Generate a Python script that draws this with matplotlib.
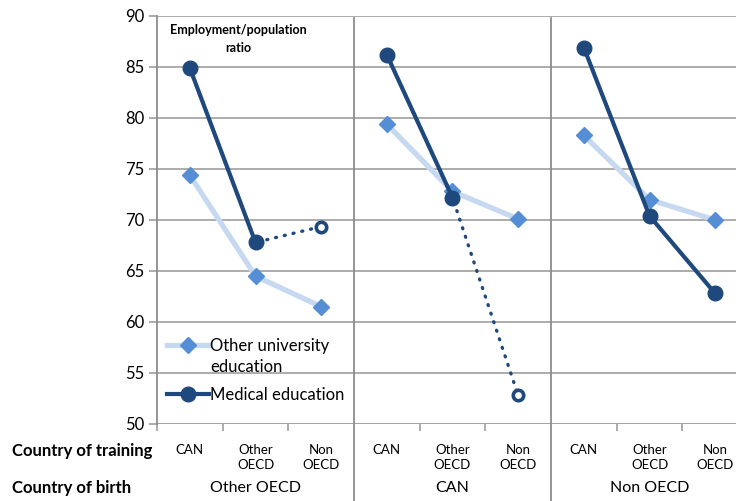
import matplotlib.pyplot as plt
from matplotlib.lines import Line2D

plt.rcParams['font.family'] = ['Lato', 'DejaVu Sans']

# data
birth_groups = ['Other OECD', 'CAN', 'Non OECD']
train_labels = ['CAN', 'Other\nOECD', 'Non\nOECD']
other_univ = [[74.4, 64.5, 61.5],
              [79.4, 72.8, 70.1],
              [78.3, 72.0, 70.0]]
medical = [[84.9, 67.8, 69.35],
           [86.2, 72.2, 52.8],
           [86.9, 70.4, 62.8]]
# how the medical line is drawn in each group: (index where dotted part starts, last point hollow?)
medical_style = [(0, True), (0, True), (None, False)]

light = '#c6d9f1'
diamond = '#558ed5'
navy = '#1f497d'
grid_c = '#a6a6a6'

fig = plt.figure(figsize=(7.36, 5.01), dpi=100)
ax = fig.add_axes([157 / 736, 77 / 501, 591 / 736, 408 / 501])

ax.set_xlim(0, 9)
ax.set_ylim(50, 90)
ax.set_yticks(range(50, 91, 5))
ax.yaxis.grid(True, color=grid_c, linewidth=1.3)
ax.set_axisbelow(True)
for s in ['top', 'right', 'bottom']:
    ax.spines[s].set_visible(False)
ax.spines['left'].set_color('#8c8c8c')
ax.spines['left'].set_linewidth(1.3)
ax.tick_params(axis='y', length=6, width=1.3, color=grid_c, labelsize=12, pad=3)
ax.set_xticks([0, 1, 2, 4, 5, 7, 8, 9])
ax.set_xticklabels([])
ax.tick_params(axis='x', length=5, width=1.3, color=grid_c)
ax.axhline(50, color=grid_c, linewidth=1.3, zorder=1)

trans = ax.get_xaxis_transform()
for xs in [3, 6]:
    ax.add_line(Line2D([xs, xs], [-0.19, 0.995], transform=trans, color='#8c8c8c',
                       linewidth=1.3, clip_on=False))

for g in range(3):
    xs = [g * 3 + 0.5 + i for i in range(3)]
    ou = other_univ[g]
    md = medical[g]
    dot_from, hollow = medical_style[g]
    ax.plot(xs, ou, color=light, linewidth=3.8, marker='D', markersize=8.5,
            markerfacecolor=diamond, markeredgecolor=diamond, zorder=3)
    if dot_from is not None:
        ax.plot(xs[dot_from:], md[dot_from:], color=navy, linewidth=2.4,
                linestyle=(0, (0.3, 2.4)), dash_capstyle='round', zorder=4)
        ax.plot(xs[:2], md[:2], color=navy, linewidth=3, marker='o', markersize=10.5,
                zorder=5)
    else:
        ax.plot(xs, md, color=navy, linewidth=3, marker='o', markersize=10.5, zorder=5)
    if hollow:
        ax.plot(xs[2], md[2], marker='o', markersize=7.5, markerfacecolor='white',
                markeredgecolor=navy, markeredgewidth=2.6, linestyle='none', zorder=6)
    for i, lab in enumerate(train_labels):
        ax.text(xs[i], -0.05, lab, transform=trans, ha='center', va='top',
                fontsize=9.5, linespacing=1.3)
    ax.text(g * 3 + 1.5, -0.158, birth_groups[g], transform=trans, ha='center',
            va='center', fontsize=11.5)

fig.text(12 / 736, 1 - 451 / 501, 'Country of training', fontsize=12, fontweight='bold',
         ha='left', va='center')
fig.text(12 / 736, 1 - 488 / 501, 'Country of birth', fontsize=12, fontweight='bold',
         ha='left', va='center')

ax.text((238 - 157) / 591, (424 - 39) / 408, 'Employment/population\nratio',
        transform=ax.transAxes, ha='center', va='center', fontsize=9, fontweight='bold',
        linespacing=1.6)

handles = [Line2D([], [], color=light, linewidth=3.8, marker='D', markersize=8.5,
                  markerfacecolor=diamond, markeredgecolor=diamond),
           Line2D([], [], color=navy, linewidth=3, marker='o', markersize=10.5)]
ax.legend(handles, ['Other university', 'Medical education'],
          loc='upper left', bbox_to_anchor=((167 - 157) / 591, (424 - 338) / 408),
          frameon=False, fontsize=12, handlelength=2.5, handletextpad=0.1,
          borderaxespad=0, labelspacing=1.95, borderpad=0)
ax.text((210 - 157) / 591, (424 - 367) / 408, 'education', transform=ax.transAxes,
        ha='left', va='center', fontsize=12)

fig.savefig('out.png', dpi=100)
